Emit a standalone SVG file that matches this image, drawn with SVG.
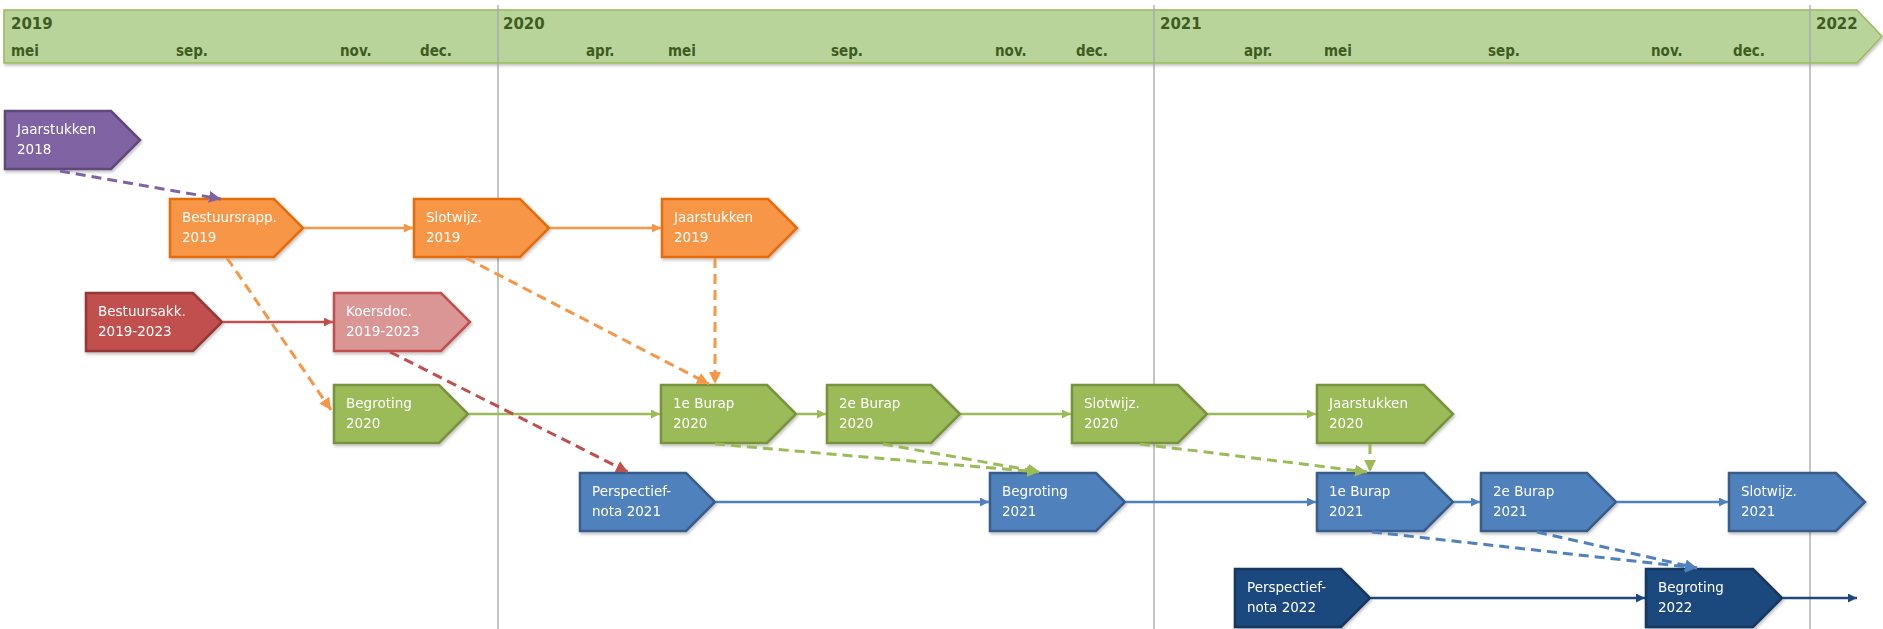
<svg xmlns="http://www.w3.org/2000/svg" width="1883" height="629" viewBox="0 0 1883 629">
<style>
.hdr{fill:#b8d49b;stroke:#9bbb59;stroke-width:1.5}
.yr{font-family:"DejaVu Sans","Liberation Sans",sans-serif;font-weight:bold;font-size:15px;fill:#3d5c1e}
.mo{font-family:"DejaVu Sans Condensed","DejaVu Sans",sans-serif;font-weight:bold;font-size:15px;fill:#3d5c1e}
.vl{stroke:#a6a6a6;stroke-width:1.3}
.nt{font-family:"DejaVu Sans","Liberation Sans",sans-serif;font-size:13.5px;fill:#ffffff}
.n{stroke-width:2.5;stroke-linejoin:miter}
.pu{fill:#8064a2;stroke:#5f497a}
.or{fill:#f79646;stroke:#e46c0a}
.rd{fill:#c0504d;stroke:#953735}
.pk{fill:#da9694;stroke:#c0504d}
.gr{fill:#9bbb59;stroke:#77933c}
.bl{fill:#4f81bd;stroke:#385d8a}
.db{fill:#1f497d;stroke:#17375e}
.s{fill:none;stroke-width:2.5}
.d{fill:none;stroke-width:3;stroke-dasharray:10 6}
</style>
<defs>
<filter id="sh" x="-5%" y="-5%" width="115%" height="135%"><feDropShadow dx="1" dy="2" stdDeviation="1.5" flood-color="#000" flood-opacity="0.25"/></filter>
<marker id="mOr" viewBox="0 0 10 10" refX="10" refY="5" markerWidth="9" markerHeight="9" markerUnits="userSpaceOnUse" orient="auto"><path d="M0,0 L10,5 L0,10 z" fill="#f79646"/></marker>
<marker id="mRd" viewBox="0 0 10 10" refX="10" refY="5" markerWidth="9" markerHeight="9" markerUnits="userSpaceOnUse" orient="auto"><path d="M0,0 L10,5 L0,10 z" fill="#c0504d"/></marker>
<marker id="mGr" viewBox="0 0 10 10" refX="10" refY="5" markerWidth="9" markerHeight="9" markerUnits="userSpaceOnUse" orient="auto"><path d="M0,0 L10,5 L0,10 z" fill="#9bbb59"/></marker>
<marker id="mBl" viewBox="0 0 10 10" refX="10" refY="5" markerWidth="9" markerHeight="9" markerUnits="userSpaceOnUse" orient="auto"><path d="M0,0 L10,5 L0,10 z" fill="#4f81bd"/></marker>
<marker id="mDb" viewBox="0 0 10 10" refX="10" refY="5" markerWidth="9" markerHeight="9" markerUnits="userSpaceOnUse" orient="auto"><path d="M0,0 L10,5 L0,10 z" fill="#1f497d"/></marker>
<marker id="dPu" viewBox="0 0 10 10" refX="10" refY="5" markerWidth="12" markerHeight="12" markerUnits="userSpaceOnUse" orient="auto"><path d="M0,0 L10,5 L0,10 z" fill="#8064a2"/></marker>
<marker id="dOr" viewBox="0 0 10 10" refX="10" refY="5" markerWidth="12" markerHeight="12" markerUnits="userSpaceOnUse" orient="auto"><path d="M0,0 L10,5 L0,10 z" fill="#f79646"/></marker>
<marker id="dRd" viewBox="0 0 10 10" refX="10" refY="5" markerWidth="12" markerHeight="12" markerUnits="userSpaceOnUse" orient="auto"><path d="M0,0 L10,5 L0,10 z" fill="#c0504d"/></marker>
<marker id="dGr" viewBox="0 0 10 10" refX="10" refY="5" markerWidth="12" markerHeight="12" markerUnits="userSpaceOnUse" orient="auto"><path d="M0,0 L10,5 L0,10 z" fill="#9bbb59"/></marker>
<marker id="dBl" viewBox="0 0 10 10" refX="10" refY="5" markerWidth="12" markerHeight="12" markerUnits="userSpaceOnUse" orient="auto"><path d="M0,0 L10,5 L0,10 z" fill="#4f81bd"/></marker>
</defs>
<rect width="1883" height="629" fill="#ffffff"/>

<g id="timeline">
<path class="hdr" filter="url(#sh)" d="M4,10 H1857 L1882,36.5 L1857,63 H4 Z"/>
<text class="yr" x="11" y="29">2019</text>
<text class="yr" x="503" y="29">2020</text>
<text class="yr" x="1160" y="29">2021</text>
<text class="yr" x="1816" y="29">2022</text>
<text class="mo" x="11" y="56">mei</text>
<text class="mo" x="176" y="56">sep.</text>
<text class="mo" x="340" y="56">nov.</text>
<text class="mo" x="420" y="56">dec.</text>
<text class="mo" x="586" y="56">apr.</text>
<text class="mo" x="668" y="56">mei</text>
<text class="mo" x="831" y="56">sep.</text>
<text class="mo" x="995" y="56">nov.</text>
<text class="mo" x="1076" y="56">dec.</text>
<text class="mo" x="1244" y="56">apr.</text>
<text class="mo" x="1324" y="56">mei</text>
<text class="mo" x="1488" y="56">sep.</text>
<text class="mo" x="1651" y="56">nov.</text>
<text class="mo" x="1733" y="56">dec.</text>
<line class="vl" x1="498" y1="5" x2="498" y2="629"/>
<line class="vl" x1="1154" y1="5" x2="1154" y2="629"/>
<line class="vl" x1="1810" y1="5" x2="1810" y2="629"/>
</g>

<g id="nodes" filter="url(#sh)">
<g id="jaarstukken2018"><path class="n pu" d="M5,111 H111 L140,140 L111,169 H5 Z"/><text class="nt" x="17" y="134">Jaarstukken</text><text class="nt" x="17" y="154">2018</text></g>
<g id="bestuursrapp2019"><path class="n or" d="M170,199 H274 L303,228 L274,257 H170 Z"/><text class="nt" x="182" y="222">Bestuursrapp.</text><text class="nt" x="182" y="242">2019</text></g>
<g id="slotwijz2019"><path class="n or" d="M414,199 H520 L549,228 L520,257 H414 Z"/><text class="nt" x="426" y="222">Slotwijz.</text><text class="nt" x="426" y="242">2019</text></g>
<g id="jaarstukken2019"><path class="n or" d="M662,199 H768 L797,228 L768,257 H662 Z"/><text class="nt" x="674" y="222">Jaarstukken</text><text class="nt" x="674" y="242">2019</text></g>
<g id="bestuursakk"><path class="n rd" d="M86,293 H193 L222,322 L193,351 H86 Z"/><text class="nt" x="98" y="316">Bestuursakk.</text><text class="nt" x="98" y="336">2019-2023</text></g>
<g id="koersdoc"><path class="n pk" d="M334,293 H441 L470,322 L441,351 H334 Z"/><text class="nt" x="346" y="316">Koersdoc.</text><text class="nt" x="346" y="336">2019-2023</text></g>
<g id="begroting2020"><path class="n gr" d="M334,385 H439 L468,414 L439,443 H334 Z"/><text class="nt" x="346" y="408">Begroting</text><text class="nt" x="346" y="428">2020</text></g>
<g id="burap1_2020"><path class="n gr" d="M661,385 H767 L796,414 L767,443 H661 Z"/><text class="nt" x="673" y="408">1e Burap</text><text class="nt" x="673" y="428">2020</text></g>
<g id="burap2_2020"><path class="n gr" d="M827,385 H931 L960,414 L931,443 H827 Z"/><text class="nt" x="839" y="408">2e Burap</text><text class="nt" x="839" y="428">2020</text></g>
<g id="slotwijz2020"><path class="n gr" d="M1072,385 H1178 L1207,414 L1178,443 H1072 Z"/><text class="nt" x="1084" y="408">Slotwijz.</text><text class="nt" x="1084" y="428">2020</text></g>
<g id="jaarstukken2020"><path class="n gr" d="M1317,385 H1424 L1453,414 L1424,443 H1317 Z"/><text class="nt" x="1329" y="408">Jaarstukken</text><text class="nt" x="1329" y="428">2020</text></g>
<g id="perspectief2021"><path class="n bl" d="M580,473 H686 L715,502 L686,531 H580 Z"/><text class="nt" x="592" y="496">Perspectief-</text><text class="nt" x="592" y="516">nota 2021</text></g>
<g id="begroting2021"><path class="n bl" d="M990,473 H1096 L1125,502 L1096,531 H990 Z"/><text class="nt" x="1002" y="496">Begroting</text><text class="nt" x="1002" y="516">2021</text></g>
<g id="burap1_2021"><path class="n bl" d="M1317,473 H1424 L1453,502 L1424,531 H1317 Z"/><text class="nt" x="1329" y="496">1e Burap</text><text class="nt" x="1329" y="516">2021</text></g>
<g id="burap2_2021"><path class="n bl" d="M1481,473 H1587 L1616,502 L1587,531 H1481 Z"/><text class="nt" x="1493" y="496">2e Burap</text><text class="nt" x="1493" y="516">2021</text></g>
<g id="slotwijz2021"><path class="n bl" d="M1729,473 H1836 L1865,502 L1836,531 H1729 Z"/><text class="nt" x="1741" y="496">Slotwijz.</text><text class="nt" x="1741" y="516">2021</text></g>
<g id="perspectief2022"><path class="n db" d="M1235,569 H1341 L1370,598 L1341,627 H1235 Z"/><text class="nt" x="1247" y="592">Perspectief-</text><text class="nt" x="1247" y="612">nota 2022</text></g>
<g id="begroting2022"><path class="n db" d="M1646,569 H1753 L1782,598 L1753,627 H1646 Z"/><text class="nt" x="1658" y="592">Begroting</text><text class="nt" x="1658" y="612">2022</text></g>
</g>

<g id="connectors">
<path class="s" stroke="#f79646" marker-end="url(#mOr)" d="M304,228 H413"/>
<path class="s" stroke="#f79646" marker-end="url(#mOr)" d="M550,228 H661"/>
<path class="s" stroke="#c0504d" marker-end="url(#mRd)" d="M223,322 H333"/>
<path class="s" stroke="#9bbb59" marker-end="url(#mGr)" d="M469,414 H660"/>
<path class="s" stroke="#9bbb59" marker-end="url(#mGr)" d="M797,414 H826"/>
<path class="s" stroke="#9bbb59" marker-end="url(#mGr)" d="M961,414 H1071"/>
<path class="s" stroke="#9bbb59" marker-end="url(#mGr)" d="M1208,414 H1316"/>
<path class="s" stroke="#4f81bd" marker-end="url(#mBl)" d="M716,502 H989"/>
<path class="s" stroke="#4f81bd" marker-end="url(#mBl)" d="M1126,502 H1316"/>
<path class="s" stroke="#4f81bd" marker-end="url(#mBl)" d="M1454,502 H1480"/>
<path class="s" stroke="#4f81bd" marker-end="url(#mBl)" d="M1617,502 H1728"/>
<path class="s" stroke="#1f497d" marker-end="url(#mDb)" d="M1371,598 H1645"/>
<path class="s" stroke="#1f497d" marker-end="url(#mDb)" d="M1783,598 H1857"/>

<path class="d" stroke="#8064a2" marker-end="url(#dPu)" d="M60,171 L221,199"/>
<path class="d" stroke="#f79646" marker-end="url(#dOr)" d="M227,258 L331,410"/>
<path class="d" stroke="#f79646" marker-end="url(#dOr)" d="M466,258 L709,384"/>
<path class="d" stroke="#f79646" marker-end="url(#dOr)" d="M715,258 V384"/>
<path class="d" stroke="#c0504d" marker-end="url(#dRd)" d="M390,352 L628,472"/>
<path class="d" stroke="#9bbb59" marker-end="url(#dGr)" d="M715,444 L1039,472"/>
<path class="d" stroke="#9bbb59" marker-end="url(#dGr)" d="M883,444 L1040,472"/>
<path class="d" stroke="#9bbb59" marker-end="url(#dGr)" d="M1140,444 L1367,472"/>
<path class="d" stroke="#9bbb59" marker-end="url(#dGr)" d="M1370,444 V472"/>
<path class="d" stroke="#4f81bd" marker-end="url(#dBl)" d="M1372,532 L1697,568"/>
<path class="d" stroke="#4f81bd" marker-end="url(#dBl)" d="M1537,532 L1697,568"/>
</g>
</svg>
